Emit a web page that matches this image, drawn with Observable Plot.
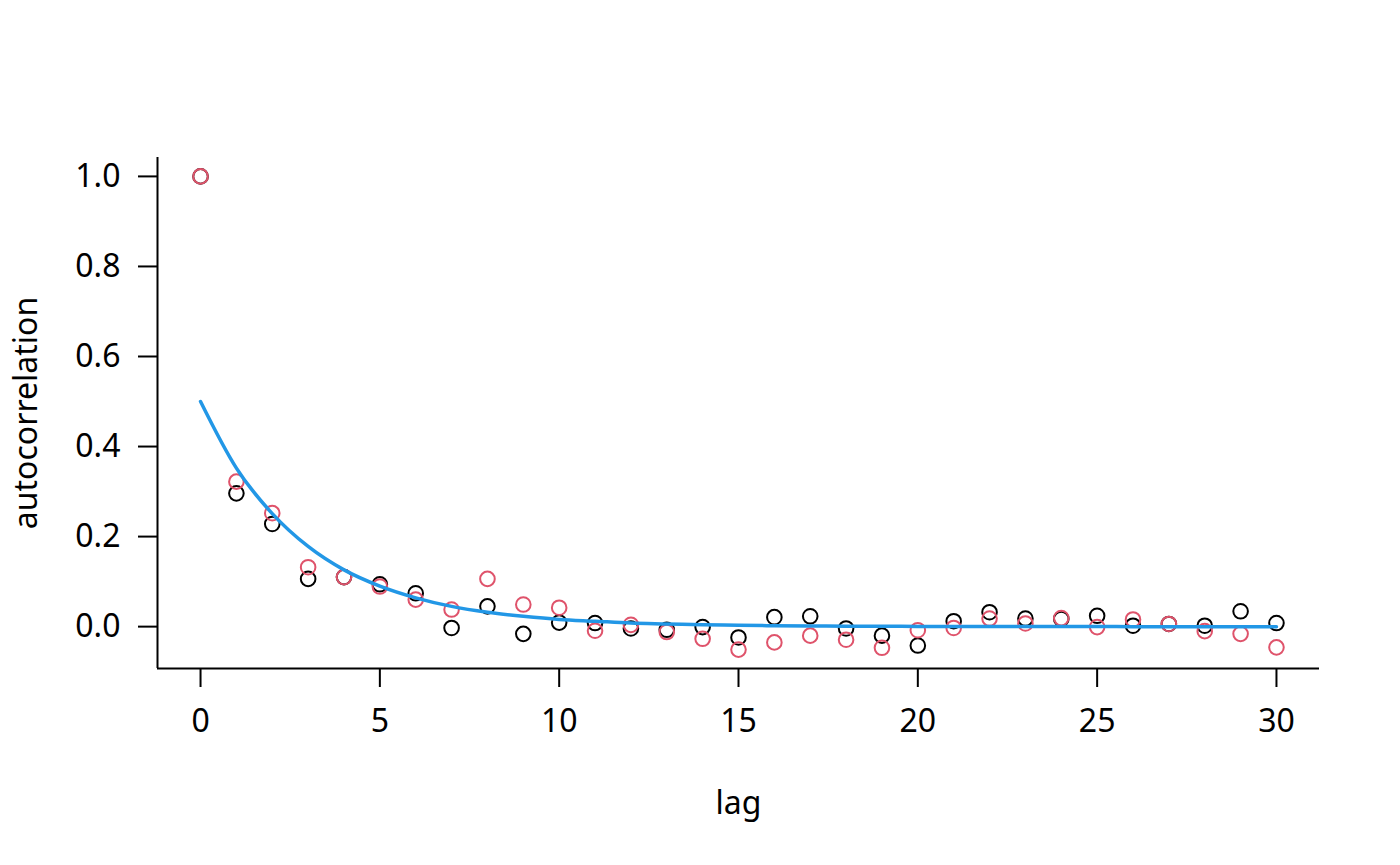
<!DOCTYPE html>
<html>
<head>
<meta charset="utf-8">
<script src="https://cdn.jsdelivr.net/npm/d3@7"></script>
<script src="https://cdn.jsdelivr.net/npm/@observablehq/plot@0.6"></script>
<style>
  html, body { margin: 0; padding: 0; background: #fff; }
  #chart svg { display: block; }
</style>
</head>
<body>
<div id="chart"></div>
<script>
// Lags
const lags = d3.range(0, 31);
// Sample autocorrelation, series 1 (black circles)
const acfBlack = [1.0, 0.296, 0.228, 0.106, 0.110, 0.094, 0.074, -0.003, 0.045, -0.016,
  0.009, 0.008, -0.004, -0.007, -0.001, -0.024, 0.021, 0.023, -0.004, -0.020,
  -0.042, 0.012, 0.032, 0.018, 0.017, 0.024, 0.002, 0.006, 0.002, 0.034, 0.008];
// Sample autocorrelation, series 2 (red circles)
const acfRed = [1.0, 0.322, 0.252, 0.132, 0.110, 0.089, 0.060, 0.038, 0.106, 0.049,
  0.042, -0.009, 0.004, -0.012, -0.027, -0.051, -0.035, -0.020, -0.029, -0.047,
  -0.008, -0.003, 0.018, 0.007, 0.019, -0.001, 0.016, 0.006, -0.010, -0.016, -0.046];
// Theoretical curve values read at each lag (blue line)
const acfModel = [0.5, 0.352, 0.251, 0.178, 0.126, 0.090, 0.064, 0.045, 0.032, 0.023,
  0.016, 0.012, 0.008, 0.006, 0.004, 0.003, 0.002, 0.0015, 0.001, 0.0007,
  0.0005, 0.0004, 0.0003, 0.0002, 0.0001, 0.0001, 0, 0, 0, 0, 0];
// Tick values
const xTicks = [0, 5, 10, 15, 20, 25, 30];
const yTicks = [0, 0.2, 0.4, 0.6, 0.8, 1.0];
const xLabel = "lag";
const yLabel = "autocorrelation";

const blackData = lags.map((l, i) => ({lag: l, acf: acfBlack[i]}));
const redData = lags.map((l, i) => ({lag: l, acf: acfRed[i]}));
const modelData = lags.map((l, i) => ({lag: l, acf: acfModel[i]}));

const xDomain = [-1.2, 31.2];
const yDomain = [-0.093, 1.042];

const chart = Plot.plot({
  width: 1400,
  height: 865,
  marginLeft: 157,
  marginRight: 81,
  marginTop: 157,
  marginBottom: 197,
  style: {fontFamily: "'Noto Sans', sans-serif", fontSize: "32px", color: "#000", background: "#fff"},
  x: {domain: xDomain},
  y: {domain: yDomain},
  marks: [
    Plot.ruleX([xDomain[0]], {y1: yDomain[0], y2: yDomain[1], stroke: "#000", strokeWidth: 2}),
    Plot.ruleY([yDomain[0]], {x1: xDomain[0], x2: xDomain[1], stroke: "#000", strokeWidth: 2}),
    Plot.axisX({ticks: xTicks, tickSize: 19, tickPadding: 22, fontSize: 32, strokeWidth: 2, label: null, tickFormat: d3.format("d")}),
    Plot.axisY({ticks: yTicks, tickSize: 19, tickPadding: 18, fontSize: 32, strokeWidth: 2, label: null, tickFormat: d3.format(".1f")}),
    Plot.text([xLabel], {frameAnchor: "bottom", dy: 135, fontSize: 32, textAnchor: "middle", lineAnchor: "middle", fill: "#000"}),
    Plot.text([yLabel], {frameAnchor: "left", rotate: -90, dx: -131, fontSize: 32, textAnchor: "middle", lineAnchor: "middle", fill: "#000"}),
    Plot.dot(blackData, {x: "lag", y: "acf", r: 7.3, stroke: "#000", strokeWidth: 2, fill: "none"}),
    Plot.dot(redData, {x: "lag", y: "acf", r: 7.3, stroke: "#DF536B", strokeWidth: 2, fill: "none"}),
    Plot.line(modelData, {x: "lag", y: "acf", stroke: "#2297E6", strokeWidth: 3.5, curve: "monotone-x"})
  ]
});
document.getElementById("chart").appendChild(chart);
</script>
</body>
</html>
